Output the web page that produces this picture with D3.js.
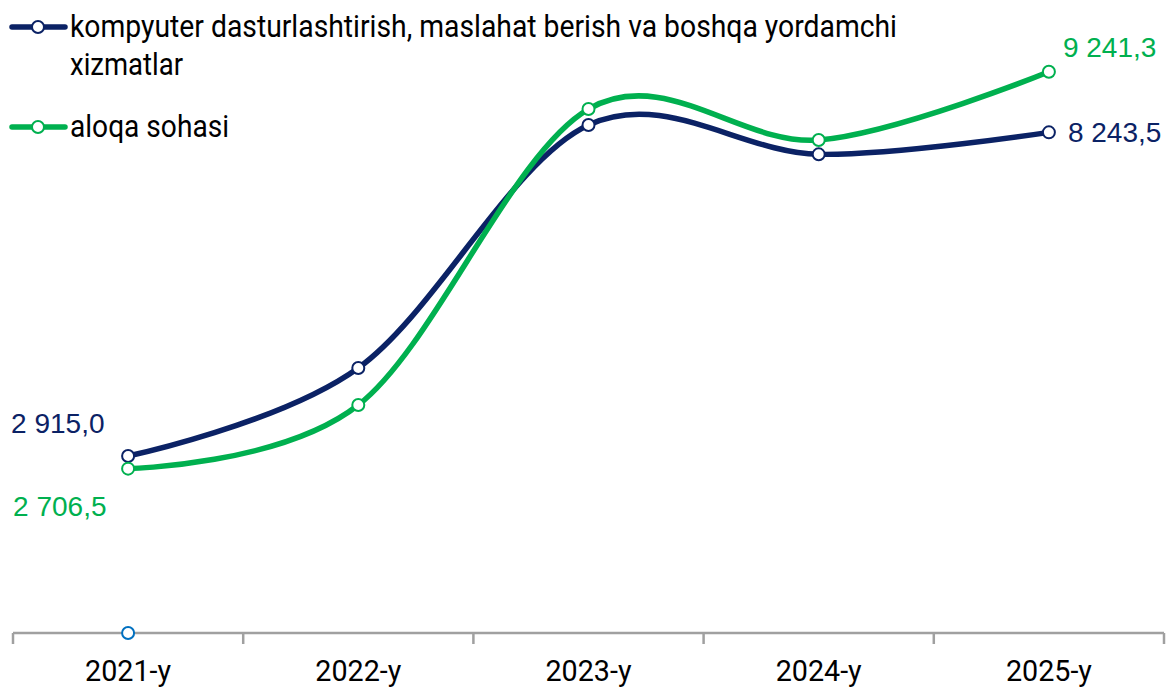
<!DOCTYPE html>
<head>
  <meta charset="utf-8" />
  <script src="https://d3js.org/d3.v7.min.js"></script>
  <style>
    body { margin: 0; background: #fff; }
    svg { display: block; }
  </style>
</head>
<body>
<script>
  const years = ["2021-y", "2022-y", "2023-y", "2024-y", "2025-y"];
  const kompyuter = [2915.0, 4364, 8365, 7882, 8243.5];
  const aloqa = [2706.5, 3754, 8628, 8118, 9241.3];
  const stray = [0]; // lone marker sitting on the axis under 2021
  const legendNames = [
    ["kompyuter dasturlashtirish, maslahat berish va boshqa yordamchi", "xizmatlar"],
    ["aloqa sohasi"],
  ];
  const fmt = (v) => d3.format(",.1f")(v).replace(/,/g, " ").replace(".", ",");

  const width = 1168, height = 689;
  const blue = "#0b2265", green = "#00b04f";

  const svg = d3.select("body").append("svg")
    .attr("width", width).attr("height", height);

  const x = d3.scaleBand().domain(years).range([13, 1164]).paddingInner(0).paddingOuter(0);
  const y = d3.scaleLinear().domain([0, 10000]).range([633, 25.7]);
  const cx = (d, i) => x(years[i]) + x.bandwidth() / 2;

  // x axis
  const axis = svg.append("g").attr("transform", `translate(0,${y(0)})`);
  axis.append("line").attr("x1", 13).attr("x2", 1164)
    .attr("stroke", "#a0a0a0").attr("stroke-width", 2.5);
  axis.selectAll("line.tick")
    .data(years.concat([null]))
    .join("line")
    .attr("class", "tick")
    .attr("x1", (d, i) => 13 + i * x.step()).attr("x2", (d, i) => 13 + i * x.step())
    .attr("y1", 0).attr("y2", 11)
    .attr("stroke", "#a0a0a0").attr("stroke-width", 2.5);
  axis.selectAll("text")
    .data(years)
    .join("text")
    .attr("x", (d) => x(d) + x.bandwidth() / 2)
    .attr("y", 48)
    .attr("text-anchor", "middle")
    .attr("font-family", "Roboto")
    .attr("font-size", 30)
    .attr("textLength", 86)
    .attr("lengthAdjust", "spacingAndGlyphs")
    .attr("fill", "#000")
    .text((d) => d);

  const line = d3.line().x(cx).y((d) => y(d)).curve(d3.curveCardinal.tension(0));

  function drawSeries(values, color) {
    svg.append("path").datum(values)
      .attr("d", line)
      .attr("fill", "none")
      .attr("stroke", color)
      .attr("stroke-width", 5.5)
      .attr("stroke-linecap", "round");
    svg.append("g").selectAll("circle")
      .data(values)
      .join("circle")
      .attr("cx", cx).attr("cy", (d) => y(d))
      .attr("r", 6)
      .attr("fill", "#fff")
      .attr("stroke", color)
      .attr("stroke-width", 2);
  }
  drawSeries(kompyuter, blue);
  drawSeries(aloqa, green);
  drawSeries(stray, "#0070c0");

  // value labels at ends
  const labelStyle = (sel, color) => sel
    .attr("font-family", "Liberation Sans, Arial, sans-serif")
    .attr("font-size", 28)
    .attr("fill", color);
  const first = 0, last = years.length - 1;
  labelStyle(svg.append("text"), blue)
    .attr("x", cx(null, first) - 117).attr("y", y(kompyuter[first]) - 23)
    .text(fmt(kompyuter[first]));
  labelStyle(svg.append("text"), green)
    .attr("x", cx(null, first) - 115).attr("y", y(aloqa[first]) + 47)
    .text(fmt(aloqa[first]));
  labelStyle(svg.append("text"), green)
    .attr("x", cx(null, last) + 14).attr("y", y(aloqa[last]) - 15)
    .text(fmt(aloqa[last]));
  labelStyle(svg.append("text"), blue)
    .attr("x", cx(null, last) + 19).attr("y", y(kompyuter[last]) + 10)
    .text(fmt(kompyuter[last]));

  // legend
  const legend = svg.append("g");
  const legendRows = [
    { color: blue, y: 27, lines: legendNames[0], widths: [827, 113] },
    { color: green, y: 127, lines: legendNames[1], widths: [159] },
  ];
  legendRows.forEach((r) => {
    legend.append("line").attr("x1", 12).attr("x2", 65)
      .attr("y1", r.y).attr("y2", r.y)
      .attr("stroke", r.color).attr("stroke-width", 5.5).attr("stroke-linecap", "round");
    legend.append("circle").attr("cx", 38).attr("cy", r.y).attr("r", 6)
      .attr("fill", "#fff").attr("stroke", r.color).attr("stroke-width", 2);
    r.lines.forEach((t, i) => {
      legend.append("text")
        .attr("x", 70).attr("y", r.y + 10 + i * 38)
        .attr("font-family", "Roboto")
        .attr("font-size", 31)
        .attr("textLength", r.widths[i])
        .attr("lengthAdjust", "spacingAndGlyphs")
        .attr("fill", "#000")
        .text(t);
    });
  });
</script>
</body>
